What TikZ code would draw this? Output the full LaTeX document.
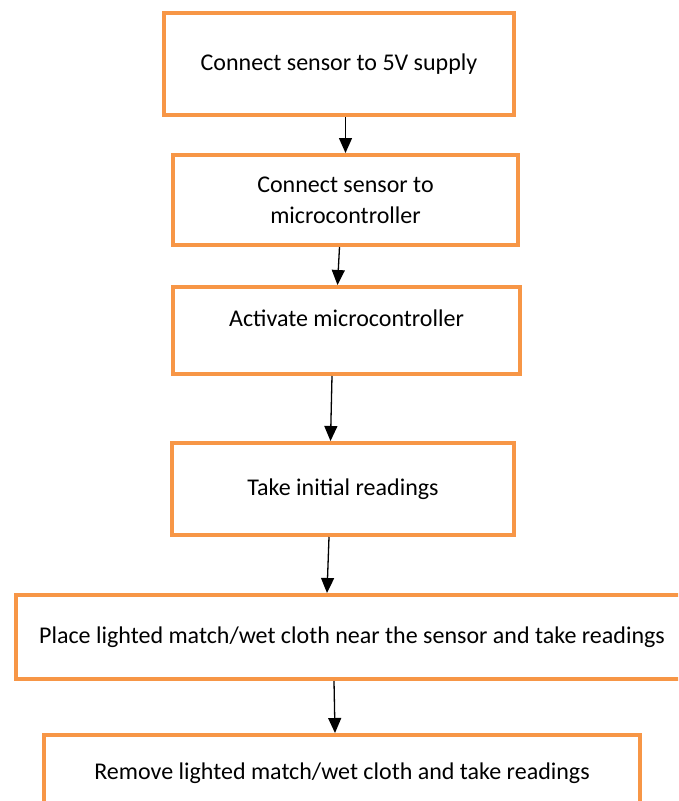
\documentclass[tikz,border=0pt]{standalone}
\usepackage{fontspec}
\setmainfont{Carlito}
\usetikzlibrary{arrows.meta, positioning}
\definecolor{boxorange}{HTML}{F79646}

\begin{document}
\begin{tikzpicture}[x=1pt, y=-1pt,
  stepbox/.style={draw=boxorange, line width=4pt, fill=white, align=center,
    inner sep=0pt, font=\fontsize{24}{31}\selectfont},
  flow/.style={black, line width=1.3pt, -{Triangle[length=15pt, width=13pt]}}]
  \useasboundingbox (0,0) rectangle (678,801);
  \clip (0,0) rectangle (678,801);

  % Steps
  \node[stepbox, minimum width=350pt, minimum height=102pt] (supply) at (339, 64) {Connect sensor to 5V supply};
  \node[stepbox, minimum width=345pt, minimum height=90pt] (link) at (345.5, 200) {Connect sensor to\\microcontroller};
  \node[stepbox, minimum width=347pt, minimum height=87pt, text depth=24pt] (activate) at (346.5, 330.5) {Activate microcontroller};
  \node[stepbox, minimum width=342pt, minimum height=92pt] (initial) at (343, 489) {Take initial readings};
  \node[stepbox, minimum width=672pt, minimum height=84pt] (place) at (352, 637) {Place lighted match/wet cloth near the sensor and take readings};
  \node[stepbox, minimum width=596pt, minimum height=76pt] (remove) at (342, 773) {Remove lighted match/wet cloth and take readings};

  % Arrows
  \draw[flow] (supply.south -| link.north) -- (link.north);
  \draw[flow] ([xshift=-6pt]link.south) -- ([xshift=-9pt]activate.north);
  \draw[flow] ([xshift=-14.5pt]activate.south) -- ([xshift=-12.5pt]initial.north);
  \draw[flow] ([xshift=-14pt]initial.south) -- ([xshift=-25pt]place.north);
  \draw[flow] ([xshift=-18pt]place.south) -- ([xshift=-7pt]remove.north);
\end{tikzpicture}
\end{document}
